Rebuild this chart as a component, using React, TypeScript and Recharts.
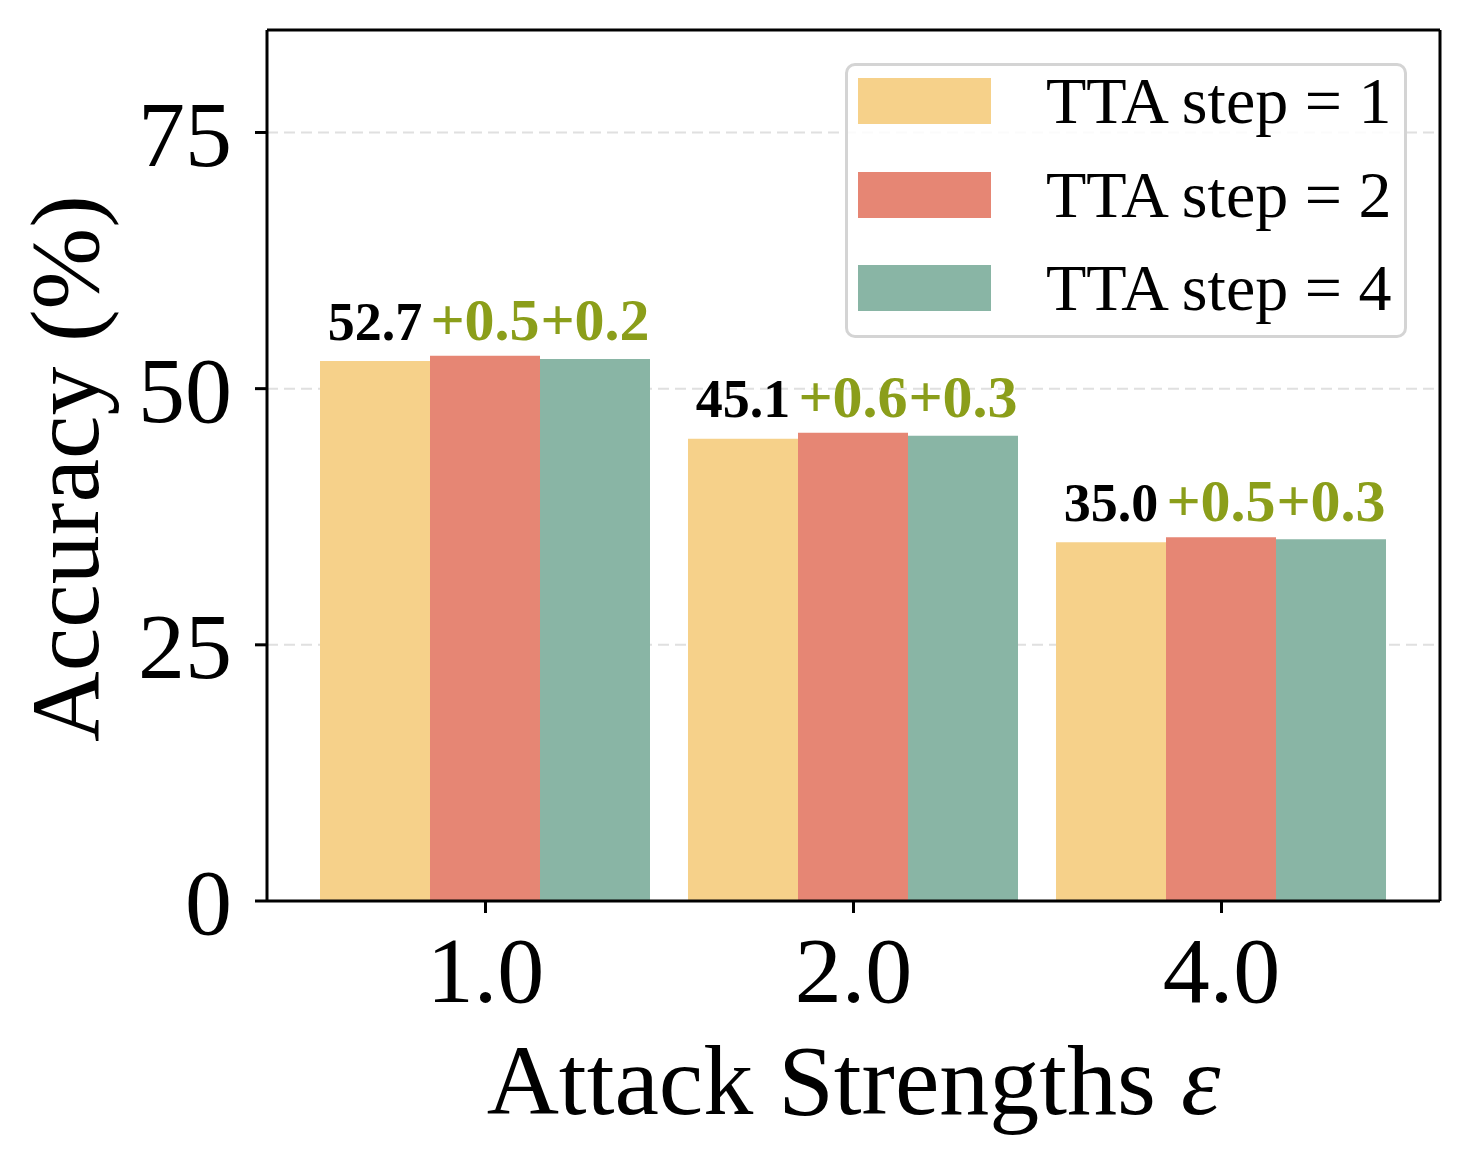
import React from "react";
import {
  BarChart,
  Bar,
  XAxis,
  YAxis,
  CartesianGrid,
  Legend,
  LabelList,
  Label,
} from "recharts";

const FONT = '"Liberation Serif", "Times New Roman", Times, serif';

const epsilons = ["1.0", "2.0", "4.0"];
const step1 = [52.7, 45.1, 35.0];
const step2 = [53.2, 45.7, 35.5];
const step4 = [52.9, 45.4, 35.3];
const yTicks = [0, 25, 50, 75];

const SERIES = [
  { key: "s1", name: "TTA step = 1", color: "#F6D18A" },
  { key: "s2", name: "TTA step = 2", color: "#E68674" },
  { key: "s4", name: "TTA step = 4", color: "#89B5A5" },
];

const GAIN = "#8B9E1A";
const SPINE = { stroke: "#000", strokeWidth: 3 };

const data = epsilons.map((eps, i) => ({
  eps,
  s1: step1[i],
  s2: step2[i],
  s4: step4[i],
}));

const gain = (v: number, base: number) => `+${(v - base).toFixed(1)}`;

// labels for the whole group hang off the tallest (step 2) bar so they share a baseline
const GroupLabels = (props: any) => {
  const { x, y, width, index } = props;
  const cx = x + width / 2;
  const base = y - 16;
  return (
    <g fontFamily={FONT} fontWeight="bold" textAnchor="middle">
      <text x={cx - width} y={base} fontSize={54} fill="#000">
        {step1[index].toFixed(1)}
      </text>
      <text x={cx} y={base} fontSize={60} fill={GAIN}>
        {gain(step2[index], step1[index])}
      </text>
      <text x={cx + width} y={base} fontSize={60} fill={GAIN}>
        {gain(step4[index], step1[index])}
      </text>
    </g>
  );
};

const LegendBox = (props: any) => {
  const { payload } = props;
  return (
    <div
      style={{
        width: 556,
        height: 269,
        border: "3px solid #d4d4d4",
        borderRadius: 10,
        background: "rgba(255,255,255,0.85)",
        position: "relative",
        fontFamily: FONT,
      }}
    >
      {(payload || []).map((p: any, i: number) => (
        <div
          key={p.value}
          style={{
            position: "absolute",
            left: 0,
            top: 12 + i * 93.5,
            height: 46,
            width: "100%",
          }}
        >
          <div
            style={{
              position: "absolute",
              left: 10,
              top: 0,
              width: 133,
              height: 46,
              background: p.color,
            }}
          />
          <div
            style={{
              position: "absolute",
              left: 198,
              top: -14,
              fontSize: 66,
              lineHeight: "74px",
              color: "#000",
              whiteSpace: "nowrap",
            }}
          >
            {p.value}
          </div>
        </div>
      ))}
    </div>
  );
};

export default function App() {
  return (
    <div style={{ position: "absolute", left: 0, top: 0, background: "#fff" }}>
      <BarChart
        width={1471}
        height={1165}
        data={data}
        margin={{ top: 29, right: 30, bottom: 164, left: 67 }}
        barCategoryGap={18.5}
        barGap={0}
      >
        <CartesianGrid
          vertical={false}
          stroke="#e0e0e0"
          strokeWidth={2}
          strokeDasharray="11 6"
        />
        <XAxis
          dataKey="eps"
          height={100}
          padding={{ left: 34.5, right: 34.5 }}
          axisLine={SPINE}
          tickLine={SPINE}
          tickSize={12}
          tickMargin={22}
          tick={{ fontSize: 94, fill: "#000", fontFamily: FONT }}
        >
          <Label
            content={(p: any) => {
              const vb = p.viewBox;
              return (
                <text
                  x={vb.x + vb.width / 2}
                  y={vb.y + 213}
                  textAnchor="middle"
                  fontSize={100}
                  fontFamily={FONT}
                  fill="#000"
                >
                  Attack Strengths <tspan fontStyle="italic">ε</tspan>
                </text>
              );
            }}
          />
        </XAxis>
        {/* top and right spines close the frame */}
        <XAxis
          xAxisId="top"
          dataKey="eps"
          orientation="top"
          height={1}
          tick={false}
          tickLine={false}
          axisLine={SPINE}
        />
        <YAxis
          width={200}
          domain={[0, 85]}
          ticks={yTicks}
          allowDataOverflow
          axisLine={SPINE}
          tickLine={SPINE}
          tickSize={12}
          tickMargin={23}
          tick={{ fontSize: 94, fill: "#000", fontFamily: FONT }}
        >
          <Label
            content={(p: any) => {
              const vb = p.viewBox;
              const x = vb.x + 31;
              const y = vb.y + vb.height / 2 + 3;
              return (
                <text
                  x={x}
                  y={y}
                  transform={`rotate(-90, ${x}, ${y})`}
                  textAnchor="middle"
                  fontSize={98}
                  fontFamily={FONT}
                  fill="#000"
                >
                  Accuracy (%)
                </text>
              );
            }}
          />
        </YAxis>
        <YAxis
          yAxisId="right"
          orientation="right"
          width={1}
          domain={[0, 85]}
          tick={false}
          tickLine={false}
          axisLine={SPINE}
        />
        <Legend
          layout="vertical"
          align="center"
          verticalAlign="middle"
          content={<LegendBox />}
          wrapperStyle={{ position: "absolute", left: 845, top: 63, width: 562, height: 275 }}
        />
        {SERIES.map((s) => (
          <Bar
            key={s.key}
            dataKey={s.key}
            name={s.name}
            fill={s.color}
            isAnimationActive={false}
          >
            {s.key === "s2" && <LabelList dataKey="s2" content={<GroupLabels />} />}
          </Bar>
        ))}
      </BarChart>
    </div>
  );
}
